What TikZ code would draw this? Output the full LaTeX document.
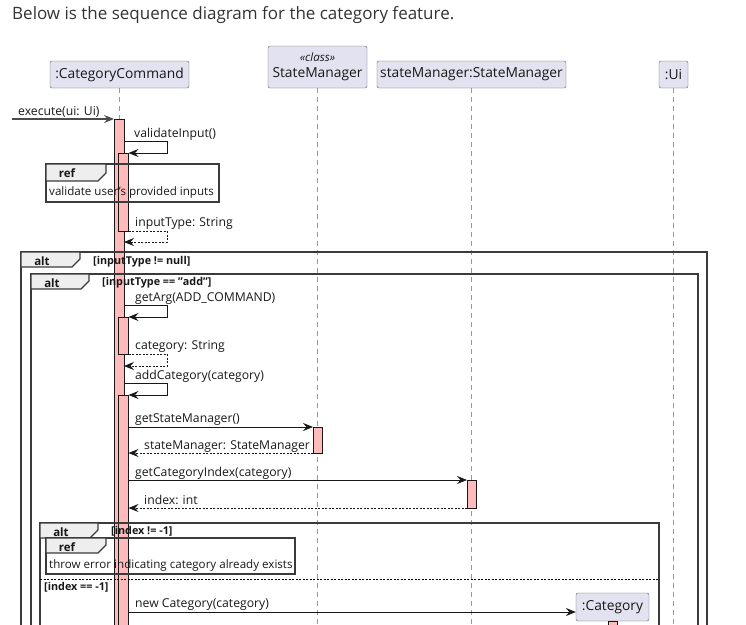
\documentclass[tikz,border=0pt]{standalone}
\usepackage{fontspec}
\setmainfont{Open Sans}
\usetikzlibrary{arrows.meta,positioning,calc}
\definecolor{partfill}{HTML}{E2E2F0}
\definecolor{actfill}{HTML}{FFBBBB}
\definecolor{linedark}{HTML}{181818}
\definecolor{tabfill}{HTML}{EEEEEE}

\tikzset{
  participant/.style={draw=linedark!70,fill=partfill,rounded corners=2pt,inner sep=0pt,
    minimum height=27pt,font=\fontsize{13.8}{15}\selectfont,text=linedark},
  lifeline/.style={draw=gray!80,line width=0.6pt,dash pattern=on 5pt off 4pt},
  actbar/.style={draw=linedark,fill=actfill,line width=0.7pt,inner sep=0pt,outer sep=0pt,
    anchor=north west,minimum width=10pt},
  msg/.style={draw=linedark,line width=0.8pt,-{Stealth[length=10pt,width=8pt,inset=3.5pt]}},
  ret/.style={msg,dash pattern=on 2pt off 1.5pt},
  msglabel/.style={anchor=base west,inner sep=0pt,font=\fontsize{12.2}{14}\selectfont,text=linedark},
  guard/.style={anchor=base west,inner sep=0pt,font=\bfseries\fontsize{10.8}{12}\selectfont,text=linedark},
  fragframe/.style={draw=linedark!85,line width=1.4pt},
  reframe/.style={draw=linedark!85,line width=1.1pt},
  tabshape/.style={draw=linedark!85,fill=tabfill,line width=1.1pt},
  tablabel/.style={anchor=base,inner sep=0pt,font=\bfseries\fontsize{11.5}{13}\selectfont,text=linedark},
}
% tab of a fragment: x, y, width, height, label
\newcommand{\fragtab}[5]{%
  \draw[tabshape] (#1,#2) -- ++(#3,0) -- ++(0,#4-8) -- ++(-8,8) -- (#1,#2+#4) -- cycle;
  \node[tablabel] (tab-#5-#2) at (#1+21,#2+13) {#5};
}

\begin{document}
\begin{tikzpicture}[x=1pt,y=-1pt]
\useasboundingbox (0,0) rectangle (746,624);
\clip (0,0) rectangle (746,624);

\node[anchor=base west,inner sep=0pt,font=\fontsize{17}{20}\selectfont,text=black!80] (title) at (12,19)
  {Below is the sequence diagram for the category feature.};

% participants
\node[participant,minimum width=139pt] (cmd) at (119.5,74.5) {:CategoryCommand};
\node[participant,minimum width=99pt,minimum height=42pt,align=center] (smclass) at (317.5,67)
  {{\itshape\fontsize{11.5}{12}\selectfont «class»}\\[1.5pt]StateManager};
\node[participant,minimum width=189pt] (sm) at (471.5,74.5) {stateManager:StateManager};
\node[participant,minimum width=29pt] (ui) at (673.5,74.5) {:Ui};
\node[participant,minimum width=73pt,minimum height=28pt] (cat) at (612.5,607) {:Category};

% lifelines
\draw[lifeline] (cmd.south) -- (cmd.south |- 0,624);
\draw[lifeline] (smclass.south) -- (smclass.south |- 0,624);
\draw[lifeline] (sm.south) -- (sm.south |- 0,624);
\draw[lifeline] (ui.south) -- (ui.south |- 0,624);

% activations
\node[actbar,minimum height=520pt] (act1) at (114,119) {};
\node[actbar,minimum height=78pt] (act2) at (118.5,153) {};
\node[actbar,minimum height=37pt] (act3) at (118.5,317) {};
\node[actbar,minimum height=250pt] (act4) at (118.5,395) {};
\node[actbar,minimum width=9pt,minimum height=26pt] (act5) at (313,427) {};
\node[actbar,minimum width=9pt,minimum height=28pt] (act6) at (467,480) {};
\node[actbar,minimum width=9pt,minimum height=20pt] (act7) at (608,621) {};

% messages
\coordinate (caller) at (12,119);
\draw[msg,draw=gray!60!black,line width=1.2pt] (caller) -- (act1.north west);
\node[msglabel] (l-exec) at (18,115) {execute(ui: Ui)};

\draw[msg] (act1.east |- 0,141) -- ++(43,0) |- (act2.north east);
\node[msglabel] (l-valid) at (134,137) {validateInput()};
\draw[ret] (act2.south east) -- ++(38.5,0) |- (act1.east |- 0,242);
\node[msglabel] (l-input) at (135,226) {inputType: String};

\draw[msg] (act1.east |- 0,305) -- ++(43,0) |- (act3.north east);
\node[msglabel] (l-arg) at (135,301) {getArg(ADD\_COMMAND)};
\draw[ret] (act3.south east) -- ++(38.5,0) |- (act1.east |- 0,366);
\node[msglabel] (l-cat) at (135,349) {category: String};

\draw[msg] (act1.east |- 0,383) -- ++(43,0) |- (act4.north east);
\node[msglabel] (l-add) at (135,379) {addCategory(category)};

\draw[msg] (act4.east |- act5.north) -- (act5.north west);
\node[msglabel] (l-getsm) at (135,422) {getStateManager()};
\draw[ret] (act5.south west) -- (act4.east |- act5.south);
\node[msglabel] (l-sm) at (144,449) {stateManager: StateManager};

\draw[msg] (act4.east |- act6.north) -- (act6.north west);
\node[msglabel] (l-index) at (135,476) {getCategoryIndex(category)};
\draw[ret] (act6.south west) -- (act4.east |- act6.south);
\node[msglabel] (l-int) at (144,504) {index: int};

\coordinate (catin) at (cat.west |- 0,612);
\draw[msg] (act4.east |- catin) -- (catin);
\node[msglabel] (l-new) at (135,607) {new Category(category)};

% fragments
\draw[reframe] (46,164) rectangle (219,202);
\fragtab{46}{164}{60}{17}{ref}
\node[msglabel,font=\fontsize{11.6}{13}\selectfont] (r-valid) at (49,195) {validate user's provided inputs};

\draw[fragframe] (21,252) rectangle (707,640);
\fragtab{21}{252}{59}{15}{alt}
\node[guard] (g-null) at (93,264) {[inputType != null]};

\draw[fragframe] (31,274) rectangle (698,640);
\fragtab{31}{274}{58}{15}{alt}
\node[guard] (g-add) at (102,285) {[inputType == "add"]};

\draw[fragframe] (40,523) rectangle (659,640);
\fragtab{40}{523}{58}{15}{alt}
\node[guard] (g-found) at (111,534) {[index != -1]};
\draw[line width=0.8pt,dash pattern=on 2pt off 1.5pt] (40,579) -- (659,579);
\node[guard] (g-new) at (44,590) {[index == -1]};

\draw[reframe] (46,538) rectangle (295,574);
\fragtab{46}{538}{60}{15}{ref}
\node[msglabel,font=\fontsize{11.6}{13}\selectfont] (r-err) at (49,568) {throw error indicating category already exists};
\end{tikzpicture}
\end{document}
